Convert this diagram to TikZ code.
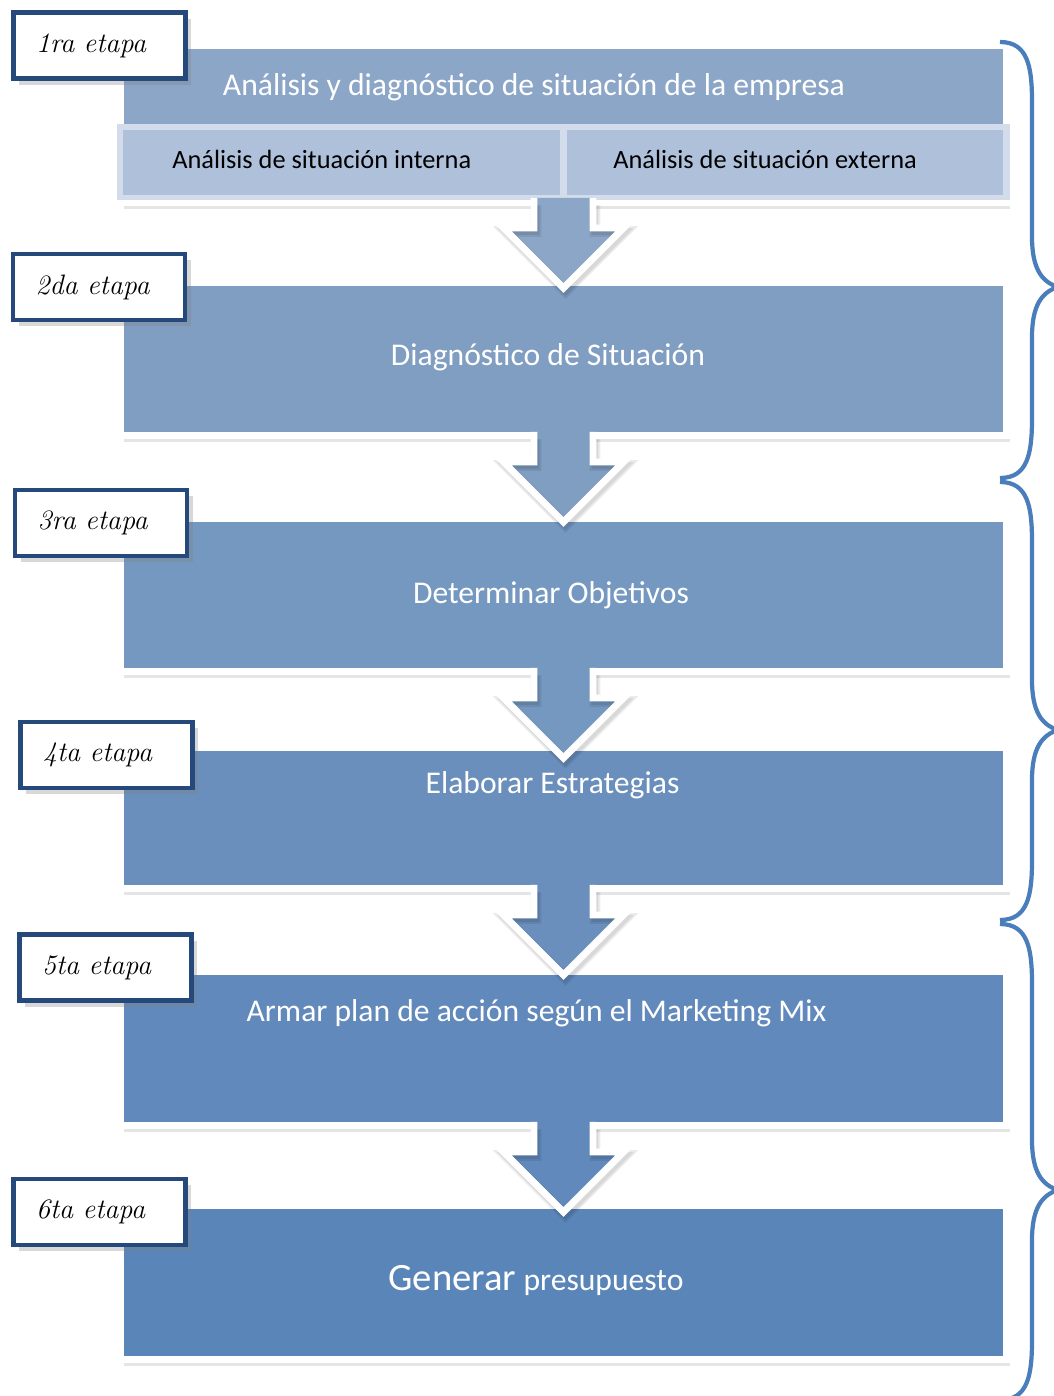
\documentclass[tikz,border=0pt]{standalone}
\usepackage{fontspec}
\newfontfamily\calibri{Carlito}
\usetikzlibrary{shadows}

\definecolor{titleblue}{HTML}{8CA6C7}
\definecolor{subblue}{HTML}{AFC0DA}
\definecolor{subedge}{HTML}{D3DCEA}
\definecolor{diagblue}{HTML}{809DC2}
\definecolor{objblue}{HTML}{7598C0}
\definecolor{estrblue}{HTML}{6A8FBC}
\definecolor{mixblue}{HTML}{6189BB}
\definecolor{presblue}{HTML}{5A85B9}
\definecolor{labelblue}{HTML}{24497A}
\definecolor{braceblue}{HTML}{4A7EBB}

% block arrow hanging below a box: #1 start coordinate, #2 colour
\newcommand\stagearrow[2]{%
  \begin{scope}[shift={(#1)}]
    \fill[#2] (-29.5,0) -- (-29.5,30) -- (-60,30) -- (0,90) -- (60,30) -- (29.5,30) -- (29.5,0) -- cycle;
    \begin{scope}[shift={(2,3.5)}]
      \draw[arrowshade, line width=6pt] (-29.5,4) -- (-29.5,30) -- (-60,30) -- (0,90) -- (60,30) -- (29.5,30) -- (29.5,4);
      \draw[arrowshade] (-29.5,4) -- (-29.5,30) -- (-60,30) -- (0,90) -- (60,30) -- (29.5,30) -- (29.5,4);
    \end{scope}
    \draw[arrowedge] (-29.5,0) -- (-29.5,30) -- (-60,30) -- (0,90) -- (60,30) -- (29.5,30) -- (29.5,0);
  \end{scope}}

% right brace: #1 top, #2 tip, #3 bottom
\newcommand\stagebrace[3]{%
  \draw[bracket] (1000,#1) .. controls (1028,#1) and (1032,#1+25) .. (1032,#1+60)
    -- (1032,#2-50) .. controls (1032,#2-18) and (1042,#2-5) .. (1058,#2)
    .. controls (1042,#2+5) and (1032,#2+18) .. (1032,#2+50)
    -- (1032,#3-60) .. controls (1032,#3-25) and (1028,#3) .. (1000,#3);}

\begin{document}
\begin{tikzpicture}[x=0.02cm,y=-0.02cm]
\tikzset{
    stagebox/.style={draw=white, line width=3.97pt, minimum width=17.72cm, inner sep=0, outer sep=0,
        drop shadow={opacity=.2, shadow xshift=2.2pt, shadow yshift=-3.6pt}},
    subbox/.style={fill=subblue, minimum width=8.73cm, minimum height=1.3cm, inner sep=0, outer sep=0},
    boxtext/.style={text=white, font=\calibri\fontsize{18}{22}\selectfont, inner sep=0},
    subtext/.style={text=black, font=\calibri\fontsize{15}{18}\selectfont, inner sep=0},
    stagelabel/.style={draw=labelblue, fill=white, line width=2.8pt, minimum width=3.44cm,
        minimum height=1.32cm, text width=2.54cm, inner xsep=0.45cm, align=left,
        font=\itshape\fontsize{16}{19}\selectfont,
        drop shadow={opacity=.3, shadow xshift=3.2pt, shadow yshift=-3.6pt}},
    arrowedge/.style={white, line width=3.97pt, line join=miter},
    arrowshade/.style={black, opacity=.08, line width=3.97pt, line join=miter},
    bracket/.style={draw=braceblue, line width=2.4pt}}

\fill[white] (0,0) rectangle (1054,1396);
\useasboundingbox (0,0) rectangle (1054,1396);

% stages
\node[stagebox, fill=titleblue, minimum height=3.14cm] (anal) at (563.5,124) {};
\fill[subedge] (117,124) rectangle (1010,200);
\node[subbox] (inter) at (341.5,162.5) {};
\node[subbox] (exter) at (785,162.5) {};
\node[stagebox, fill=diagblue, minimum height=3.06cm] (diag) at (563.5,359) {};
\node[stagebox, fill=objblue, minimum height=3.06cm] (obj) at (563.5,595) {};
\node[stagebox, fill=estrblue, minimum height=2.82cm] (estr) at (563.5,818) {};
\node[stagebox, fill=mixblue, minimum height=3.08cm] (mix) at (563.5,1048.5) {};
\node[stagebox, fill=presblue, minimum height=3.08cm] (pres) at (563.5,1282.5) {};

\node[boxtext] (analt) at (534,87) {Análisis y diagnóstico de situación de la empresa};
\node[subtext, anchor=west] (intert) at (172,159) {Análisis de situación interna};
\node[subtext, anchor=west] (extert) at (613,159) {Análisis de situación externa};
\node[boxtext] (diagt) at (548,357) {Diagnóstico de Situación};
\node[boxtext] (objt) at (551,595) {Determinar Objetivos};
\node[boxtext] (estrt) at (552.5,785) {Elaborar Estrategias};
\node[boxtext] (mixt) at (536.5,1013) {Armar plan de acción según el Marketing Mix};
\node[boxtext] (prest) at (536,1280) {{\fontsize{22}{26}\selectfont Generar} presupuesto};

% arrows
\path ([yshift=0.09cm]anal.south) coordinate (s1);
\path ([yshift=0.07cm]diag.south) coordinate (s2);
\path ([yshift=0.07cm]obj.south) coordinate (s3);
\path ([yshift=0.07cm]estr.south) coordinate (s4);
\path ([yshift=0.07cm]mix.south) coordinate (s5);
\stagearrow{s1}{titleblue}
\stagearrow{s2}{diagblue}
\stagearrow{s3}{objblue}
\stagearrow{s4}{estrblue}
\stagearrow{s5}{mixblue}

% labels
\node[stagelabel] (e1) at (99.5,45.5) {1ra etapa};
\node[stagelabel] (e2) at (99,287) {2da etapa};
\node[stagelabel] (e3) at (101,523) {3ra etapa};
\node[stagelabel] (e4) at (106.5,755) {4ta etapa};
\node[stagelabel] (e5) at (105.5,967.5) {5ta etapa};
\node[stagelabel] (e6) at (99.5,1212) {6ta etapa};

% braces
\stagebrace{42}{287}{478}
\stagebrace{482}{730}{920}
\stagebrace{924}{1190}{1400}

\end{tikzpicture}
\end{document}
